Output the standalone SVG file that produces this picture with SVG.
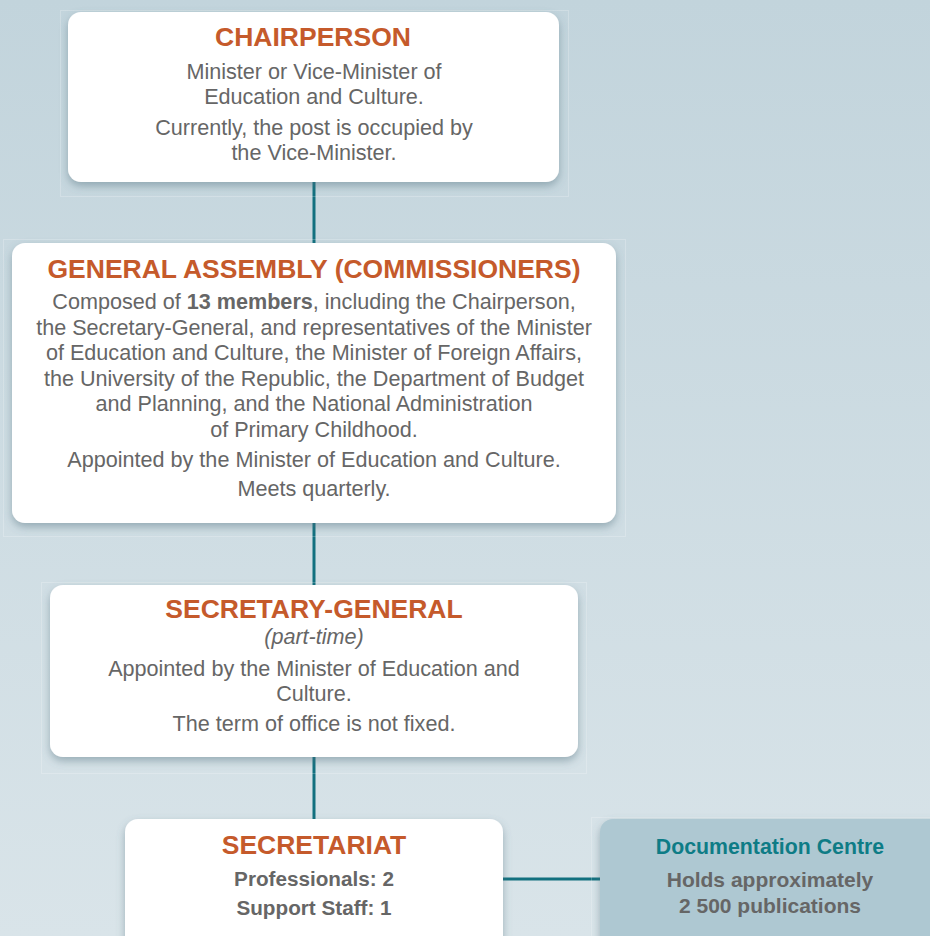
<svg xmlns="http://www.w3.org/2000/svg" width="930" height="936" viewBox="0 0 930 936">
  <defs>
    <linearGradient id="bg" x1="0" y1="0" x2="0" y2="1">
      <stop offset="0" stop-color="#c2d4dc"/>
      <stop offset="1" stop-color="#d9e4e9"/>
    </linearGradient>
    <filter id="shadow" x="-10%" y="-10%" width="120%" height="130%">
      <feDropShadow dx="0" dy="4" stdDeviation="4" flood-color="#4f6f7d" flood-opacity="0.45"/>
    </filter>
  </defs>
  <style>
    .box { fill: #ffffff; filter: url(#shadow); }
    .frame { fill: none; stroke: #ffffff; stroke-opacity: 0.22; stroke-width: 1; }
    .title { font-family: "Liberation Sans", Arial, sans-serif; font-weight: bold; font-size: 26.5px; fill: #c55a2b; text-anchor: middle; }
    .body { font-family: "Liberation Sans", Arial, sans-serif; font-size: 21.6px; fill: #666666; text-anchor: middle; }
    .bold { font-weight: bold; }
    .ital { font-style: italic; }
    .sb { font-family: "Liberation Sans", Arial, sans-serif; font-weight: bold; font-size: 20.7px; fill: #666666; text-anchor: middle; }
    .conn { stroke: #12707f; stroke-width: 3; fill: none; }
    .doc { fill: #aec8d2; filter: url(#shadow); }
    .doctitle { font-family: "Liberation Sans", Arial, sans-serif; font-weight: bold; font-size: 21.3px; fill: #0e7c86; text-anchor: middle; }
  </style>
  <rect x="0" y="0" width="930" height="936" fill="url(#bg)"/>

  <g id="connectors">
    <line class="conn" x1="314" y1="180" x2="314" y2="245"/>
    <line class="conn" x1="314" y1="521" x2="314" y2="587"/>
    <line class="conn" x1="314" y1="756" x2="314" y2="821"/>
    <line class="conn" x1="501" y1="879" x2="602" y2="879"/>
  </g>

  <g id="chairperson">
    <rect class="frame" x="60.5" y="10.5" width="508" height="186"/>
    <rect class="box" x="68" y="12" width="491" height="170" rx="13"/>
    <text class="title" x="313" y="46">CHAIRPERSON</text>
    <text class="body" x="314" y="79">Minister or Vice-Minister of</text>
    <text class="body" x="314" y="104">Education and Culture.</text>
    <text class="body" x="314" y="135">Currently, the post is occupied by</text>
    <text class="body" x="314" y="160">the Vice-Minister.</text>
  </g>

  <g id="general-assembly">
    <rect class="frame" x="3.5" y="239.5" width="622" height="297"/>
    <rect class="box" x="12" y="243" width="604" height="280" rx="13"/>
    <text class="title" x="314" y="278">GENERAL ASSEMBLY (COMMISSIONERS)</text>
    <text class="body" x="314" y="309">Composed of <tspan class="bold">13 members</tspan>, including the Chairperson,</text>
    <text class="body" x="314" y="335">the Secretary-General, and representatives of the Minister</text>
    <text class="body" x="314" y="360">of Education and Culture, the Minister of Foreign Affairs,</text>
    <text class="body" x="314" y="386">the University of the Republic, the Department of Budget</text>
    <text class="body" x="314" y="411">and Planning, and the National Administration</text>
    <text class="body" x="314" y="437">of Primary Childhood.</text>
    <text class="body" x="314" y="467">Appointed by the Minister of Education and Culture.</text>
    <text class="body" x="314" y="496">Meets quarterly.</text>
  </g>

  <g id="secretary-general">
    <rect class="frame" x="41.5" y="582.5" width="545" height="191"/>
    <rect class="box" x="50" y="585" width="528" height="172" rx="13"/>
    <text class="title" x="314" y="618">SECRETARY-GENERAL</text>
    <text class="body ital" x="314" y="644">(part-time)</text>
    <text class="body" x="314" y="676">Appointed by the Minister of Education and</text>
    <text class="body" x="314" y="701">Culture.</text>
    <text class="body" x="314" y="731">The term of office is not fixed.</text>
  </g>

  <g id="secretariat">
    <rect class="box" x="125" y="819" width="378" height="140" rx="13"/>
    <text class="title" x="314" y="854">SECRETARIAT</text>
    <text class="sb" x="314" y="886">Professionals: 2</text>
    <text class="sb" x="314" y="915">Support Staff: 1</text>
  </g>

  <g id="documentation-centre">
    <rect class="frame" x="591.5" y="817.5" width="345" height="130"/>
    <rect class="doc" x="600" y="819" width="350" height="140" rx="13"/>
    <text class="doctitle" x="770" y="854">Documentation Centre</text>
    <text class="sb" x="770" y="887" style="font-size:21px">Holds approximately</text>
    <text class="sb" x="770" y="913" style="font-size:21px">2 500 publications</text>
  </g>
</svg>
